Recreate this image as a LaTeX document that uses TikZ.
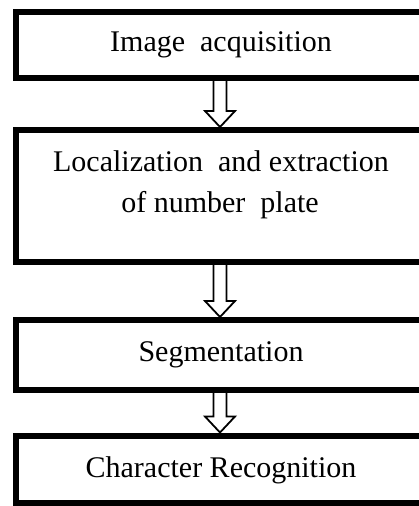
\documentclass[tikz,border=0pt]{standalone}
\usepackage{fontspec}
\setmainfont{Liberation Serif}
\usetikzlibrary{calc}
\begin{document}
\begin{tikzpicture}[x=1pt,y=-1pt,
  box/.style={draw,line width=6pt,minimum width=408pt,inner sep=0pt,outer sep=0pt},
  lbl/.style={anchor=base,inner sep=0pt,font=\fontsize{30}{41}\selectfont},
  hollow/.style={draw,line width=1.8pt,fill=white,line join=miter}]
\useasboundingbox (0,0) rectangle (419,506);
\clip (0,0) rectangle (419,506);
\node[box,minimum height=66pt] (b1) at (220,45) {};
\node[box,minimum height=132pt] (b2) at (220,196) {};
\node[box,minimum height=70pt] (b3) at (220,355) {};
\node[box,minimum height=67.5pt] (b4) at (220,469.25) {};
\node[lbl] (t1) at (221,51) {Image\ \ acquisition};
\node[lbl] (t2) at (221,171) {Localization\ \ and extraction};
\node[lbl] (t2b) at (220,212) {of number\ \ plate};
\node[lbl] (t3) at (221,361) {Segmentation};
\node[lbl] (t4) at (221,477) {Character Recognition};
\foreach \a/\b in {b1/b2,b2/b3,b3/b4}
  \draw[hollow] let \p1=(\a.south), \p2=(\b.north) in
    (\x1-6.5pt,\y1-3pt) -- (\x1-6.5pt,\y2+19pt) -- (\x1-15pt,\y2+19pt) -- (\x1,\y2+3pt)
    -- (\x1+15pt,\y2+19pt) -- (\x1+6.5pt,\y2+19pt) -- (\x1+6.5pt,\y1-3pt);
\end{tikzpicture}
\end{document}
